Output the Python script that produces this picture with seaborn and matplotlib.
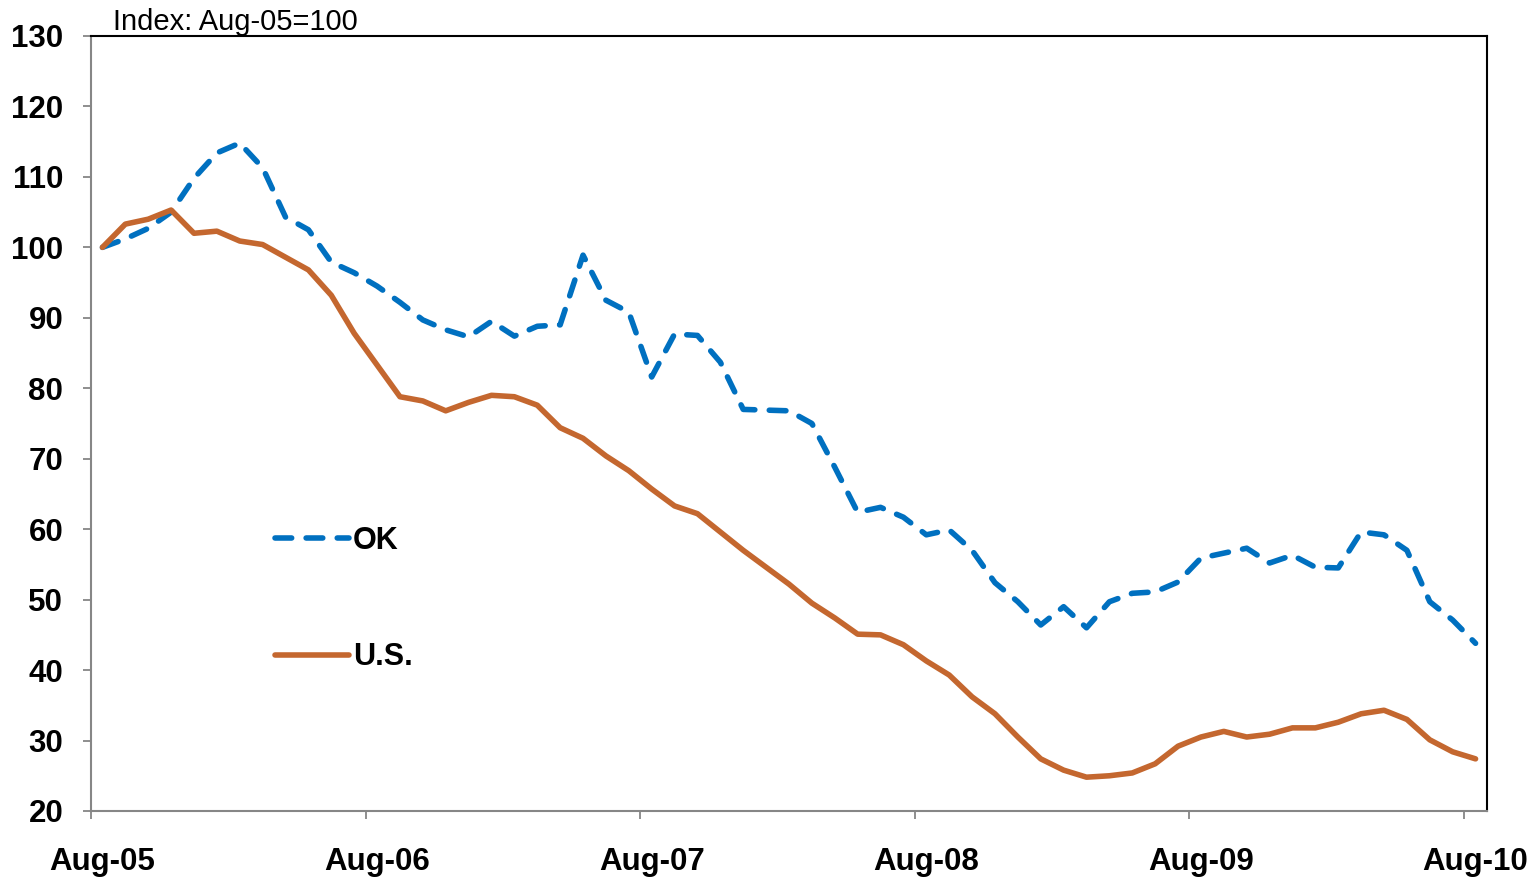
import numpy as np
import pandas as pd
import matplotlib
matplotlib.use("Agg")
import matplotlib.pyplot as plt
import seaborn as sns

# ---- data ----
months = pd.date_range("2005-08-01", "2010-08-01", freq="MS")
tick_labels = ["Aug-05", "Aug-06", "Aug-07", "Aug-08", "Aug-09", "Aug-10"]

ok_values = [100.0, 101.2, 102.7, 105.0, 109.8, 113.4, 114.8, 111.3, 104.3, 102.5,
             97.9, 96.4, 94.5, 92.2, 89.7, 88.3, 87.3, 89.5, 87.4, 88.8,
             89.0, 98.9, 92.5, 90.8, 81.6, 87.7, 87.5, 83.7, 77.0, 76.9,
             76.8, 75.0, 68.8, 62.4, 63.1, 61.7, 59.2, 59.9, 57.0, 52.4,
             49.7, 46.4, 49.0, 46.0, 49.7, 50.9, 51.1, 52.5, 55.9, 56.6,
             57.3, 55.2, 56.3, 54.6, 54.5, 59.6, 59.2, 57.0, 49.7, 47.1,
             43.8]
us_values = [100.0, 103.3, 104.0, 105.3, 102.0, 102.3, 100.9, 100.4, 98.6, 96.8,
             93.2, 87.8, 83.3, 78.8, 78.2, 76.8, 78.0, 79.0, 78.8, 77.6,
             74.4, 72.9, 70.4, 68.3, 65.7, 63.3, 62.2, 59.6, 57.0, 54.6,
             52.2, 49.5, 47.4, 45.1, 45.0, 43.6, 41.3, 39.3, 36.2, 33.8,
             30.5, 27.4, 25.8, 24.8, 25.0, 25.4, 26.7, 29.2, 30.5, 31.3,
             30.5, 30.9, 31.8, 31.8, 32.6, 33.8, 34.3, 33.0, 30.1, 28.4,
             27.4]
series_names = ["OK", "U.S."]
y_ticks = [20, 30, 40, 50, 60, 70, 80, 90, 100, 110, 120, 130]

# ---- build long table ----
idx = np.arange(len(months))
df = pd.concat([
    pd.DataFrame({"i": idx, "value": ok_values, "series": "OK"}),
    pd.DataFrame({"i": idx, "value": us_values, "series": "U.S."}),
])

sns.set_style("white")
plt.rcParams["font.family"] = ["Liberation Sans", "DejaVu Sans"]
plt.rcParams["text.color"] = "black"
plt.rcParams["xtick.color"] = "black"
plt.rcParams["ytick.color"] = "black"

W, H = 1534, 877
fig = plt.figure(figsize=(W / 100, H / 100), dpi=100)
ax = fig.add_axes([91 / W, 1 - 811 / H, (1487 - 91) / W, (811 - 36) / H])

blue = "#0070C0"
orange = "#C4672F"
sns.lineplot(data=df, x="i", y="value", hue="series", style="series",
             hue_order=series_names, style_order=series_names,
             palette={"OK": blue, "U.S.": orange},
             dashes={"OK": (3.0, 2.6), "U.S.": ""},
             linewidth=4.0, ax=ax, legend=False)
for ln in ax.get_lines():
    ln.set_dash_capstyle("round")
    ln.set_solid_capstyle("round")
    ln.set_solid_joinstyle("round")

ax.set_xlim(-0.5, len(months) - 0.5)
ax.set_ylim(20, 130)
ax.set_xlabel("")
ax.set_ylabel("")

# y axis
ax.set_yticks(y_ticks)
ax.set_yticklabels([str(v) for v in y_ticks], fontsize=22.5, fontweight="bold",
                   color="black")
ax.tick_params(axis="y", which="major", direction="out", length=6, width=1.3,
               color="#868686", pad=14, left=True, labelcolor="black")

# x axis: boundary ticks (major) + centered labels (minor)
ax.set_xticks(np.arange(-0.5, len(months), 12))
ax.set_xticklabels([])
ax.set_xticks(np.arange(0, len(months), 12), minor=True)
ax.set_xticklabels(tick_labels, minor=True, fontsize=22.5, fontweight="bold",
                   color="black")
ax.tick_params(axis="x", which="major", direction="out", length=6, width=1.3,
               color="#868686", bottom=True)
ax.tick_params(axis="x", which="minor", length=0, pad=26, bottom=True,
               labelcolor="black")

for s in ["left", "bottom"]:
    ax.spines[s].set_color("#868686")
    ax.spines[s].set_linewidth(1.5)
for s in ["top", "right"]:
    ax.spines[s].set_color("black")
    ax.spines[s].set_linewidth(1.5)
    ax.spines[s].set_visible(True)

# legend
handles = ax.get_lines()[:2]
leg = ax.legend(handles, series_names, loc="upper left",
                bbox_to_anchor=(0.1315, 0.368), frameon=False,
                prop={"family": ["Liberation Sans"], "weight": "bold", "size": 22},
                handlelength=2.45, handletextpad=0.12, labelspacing=2.83,
                borderpad=0, borderaxespad=0)
for t in leg.get_texts():
    t.set_color("black")

fig.text(113 / W, 1 - 30 / H, "Index: Aug-05=100", fontsize=21, va="baseline",
         ha="left", color="black")

fig.savefig("out.png", dpi=100)
